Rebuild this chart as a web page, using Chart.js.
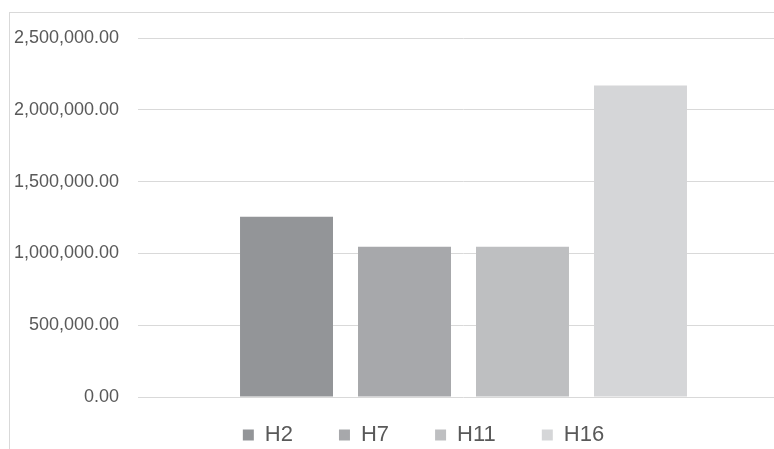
<!DOCTYPE html>
<html>
<head>
<meta charset="utf-8">
<script src="https://cdn.jsdelivr.net/npm/chart.js@4.4.0/dist/chart.umd.min.js"></script>
<style>
  html, body { margin: 0; padding: 0; background: #fff; overflow: hidden; }
  #frame { position: absolute; left: 9px; top: 12px; width: 900px; height: 600px; border: 1px solid #d9d9d9; }
  #chart { position: absolute; left: 0; top: 0; }
</style>
</head>
<body>
<div id="frame"></div>
<canvas id="chart" width="800" height="475"></canvas>
<script>
// data
const categories = [''];
const seriesNames = ['H2', 'H7', 'H11', 'H16'];
const seriesValues = [1255000, 1046000, 1046000, 2170000];
const seriesColors = ['#939598', '#a7a8ab', '#bebfc1', '#d5d6d8'];
const yTicks = [0, 500000, 1000000, 1500000, 2000000, 2500000];

const datasets = seriesNames.map(function (name, i) {
    return {
        label: name,
        data: [seriesValues[i]],
        backgroundColor: seriesColors[i],
        borderWidth: 0,
        categoryPercentage: 0.725,
        barPercentage: 0.788
    };
});

// move the legend up and right, like Excel places it
const legendShift = {
    id: 'legendShift',
    afterLayout(chart) {
        const lg = chart.legend;
        lg.top -= 19;
        lg.bottom -= 19;
        lg.left += 29;
        lg.right += 29;
    }
};

const ctx = document.getElementById('chart').getContext('2d');
new Chart(ctx, {
    type: 'bar',
    data: { labels: categories, datasets: datasets },
    plugins: [legendShift],
    options: {
        responsive: false,
        animation: false,
        layout: { padding: { left: 0, right: 11, top: 38, bottom: 0 } },
        plugins: {
            tooltip: { enabled: false },
            legend: {
                position: 'bottom',
                labels: {
                    boxWidth: 11,
                    boxHeight: 11,
                    padding: 46,
                    color: '#595959',
                    font: { family: 'Liberation Sans', size: 22 }
                }
            }
        },
        scales: {
            x: { display: false },
            y: {
                min: 0,
                max: 2500000,
                afterFit: function (s) { s.width = 138; },
                afterBuildTicks: function (s) { s.ticks = yTicks.map(function (v) { return { value: v }; }); },
                border: { display: false },
                grid: { color: '#d9d9d9', lineWidth: 1, drawTicks: false },
                ticks: {
                    padding: 19,
                    color: '#595959',
                    font: { family: 'Liberation Sans', size: 18 },
                    callback: function (v) {
                        return v.toLocaleString('en-US', { minimumFractionDigits: 2, maximumFractionDigits: 2 });
                    }
                }
            }
        }
    }
});
</script>
</body>
</html>
